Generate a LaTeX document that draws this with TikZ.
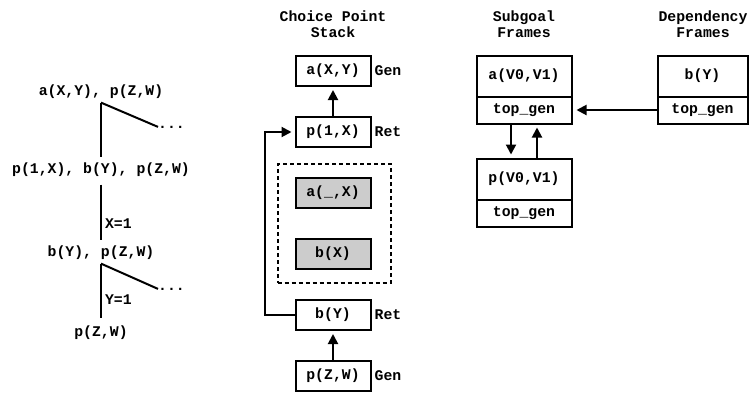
\documentclass[tikz,border=0pt]{standalone}
\usepackage{fontspec}
\setmonofont{Liberation Mono}
\usetikzlibrary{positioning,arrows.meta,fit}

\begin{document}
\begin{tikzpicture}[x=1pt,y=-1pt,
      every node/.style={font=\ttfamily\bfseries\fontsize{14.8}{16.3}\selectfont},
      cell/.style={
        draw, line width=2pt,
        minimum width=75pt, minimum height=30pt,
        inner sep=0pt, outer sep=0pt
      },
      shaded/.style={cell, fill=black!20},
      frame/.style={
        draw, line width=2pt,
        minimum width=95pt,
        inner sep=0pt, outer sep=0pt
      },
      goal/.style={inner xsep=1.5pt, inner ysep=3.5pt},
      tag/.style={inner sep=4pt},
      tree/.style={line width=2pt},
      arr/.style={line width=2pt, -{Triangle[length=10pt,width=10pt]}, shorten >=4pt}
    ]
      \useasboundingbox (0,0) rectangle (749,392);
      % resolution tree
      \node[goal] (g1) at (101,92) {a(X,Y), p(Z,W)};
      \node[goal] (g2) at (101,170) {p(1,X), b(Y), p(Z,W)};
      \node[goal] (g3) at (101,253) {b(Y), p(Z,W)};
      \node[goal] (g4) at (101,333) {p(Z,W)};
      \node[inner sep=0pt, anchor=base west] (dots1) at (158,128) {...};
      \node[inner sep=0pt, anchor=base west] (dots2) at (158,290) {...};
      \draw[tree, shorten >=2pt] (g1.south) -- (g2.north);
      \draw[tree] (g1.south) -- (dots1.west);
      \draw[tree, shorten <=4pt, shorten >=2pt] (g2.south) -- node[right, pos=0.7, inner sep=3pt] (x1) {X=1} (g3.north);
      \draw[tree, shorten >=4pt] (g3.south) -- node[right, pos=0.62, inner sep=3pt] (y1) {Y=1} (g4.north);
      \draw[tree] (g3.south) -- (dots2.west);

      % choice point stack
      \node[align=center] (cpstack) at (333,24) {Choice Point\\Stack};
      \node[cell] (axy) at (333,71) {a(X,Y)};
      \node[cell, below=31pt of axy] (p1x) {p(1,X)};
      \node[shaded, below=31pt of p1x] (ax) {a(\_,X)};
      \node[shaded, below=31pt of ax] (bx) {b(X)};
      \node[cell, below=31pt of bx] (by) {b(Y)};
      \node[cell, below=31pt of by] (pzw) {p(Z,W)};
      \node[draw, line width=2pt, dash pattern=on 4pt off 3pt,
            fit=(ax)(bx), inner xsep=19pt, inner ysep=14pt, xshift=1pt] (hidden) {};
      \node[tag, right=0pt of axy] (taxy) {Gen};
      \node[tag, right=0pt of p1x] (tp1x) {Ret};
      \node[tag, right=0pt of by] (tby) {Ret};
      \node[tag, right=0pt of pzw] (tpzw) {Gen};
      \draw[arr] (p1x) -- (axy);
      \draw[arr] (pzw) -- (by);
      \draw[arr] (by.west) -- ++(-31,0) |- (p1x.west);

      % subgoal frames
      \node[align=center] (sgtitle) at (524,24) {Subgoal\\Frames};
      \node[frame, minimum height=41pt] (sa) at (524,76) {a(V0,V1)};
      \node[frame, minimum height=27pt, below=0pt of sa] (sat) {top\_gen};
      \node[frame, minimum height=41pt, below=35pt of sat] (sp) {p(V0,V1)};
      \node[frame, minimum height=27pt, below=0pt of sp] (spt) {top\_gen};
      \draw[arr] ([xshift=-13pt]sat.south) -- ([xshift=-13pt]sp.north);
      \draw[arr] ([xshift=13pt]sp.north) -- ([xshift=13pt]sat.south);

      % dependency frames
      \node[align=center] (dftitle) at (703,24) {Dependency\\Frames};
      \node[frame, minimum width=90pt, minimum height=41pt] (db) at (702.5,76) {b(Y)};
      \node[frame, minimum width=90pt, minimum height=27pt, below=0pt of db] (dbt) {top\_gen};
      \draw[arr, shorten >=5pt] (dbt.west) -- (sat.east);
    \end{tikzpicture}
\end{document}
